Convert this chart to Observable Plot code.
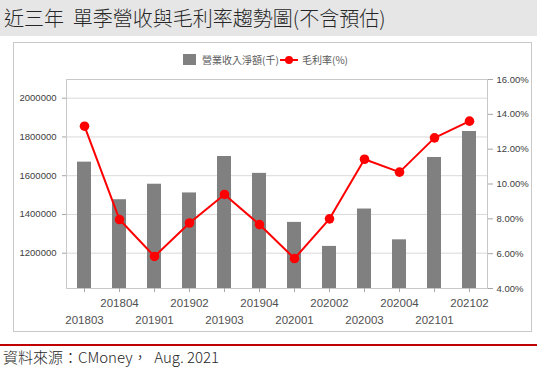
<!DOCTYPE html>
<html>
<head>
<meta charset="utf-8">
<script src="https://cdn.jsdelivr.net/npm/d3@7"></script>
<script src="https://cdn.jsdelivr.net/npm/@observablehq/plot@0.6"></script>
<style>
  html, body { margin:0; padding:0; background:#fff; }
  body { position:relative; width:537px; height:385px; overflow:hidden; font-family:"Noto Sans CJK TC","Noto Sans",sans-serif; }
  #title { position:absolute; left:0; top:0; width:537px; height:36px; background:#e6e6e6; color:#262626; font-size:20px; font-weight:300; line-height:36px; padding-left:4px; box-sizing:border-box; white-space:pre; }
  #box { position:absolute; left:13px; top:42px; width:519px; height:290px; border:1px solid #c9c9c9; box-sizing:border-box; }
  #chart { position:absolute; left:13px; top:42px; }
  #legend { position:absolute; left:0; top:51px; width:537px; height:18px; font-size:10px; color:#595959; }
  #legend .item { position:absolute; top:0; line-height:18px; white-space:nowrap; }
  #rule { position:absolute; left:0; top:344px; width:537px; height:2px; background:#c00000; }
  #source { position:absolute; left:3px; top:346px; font-size:15px; font-weight:300; line-height:22px; color:#262626; white-space:pre; }
</style>
</head>
<body>
<div id="title">近三年  單季營收與毛利率趨勢圖(不含預估)</div>
<div id="box"></div>
<div id="chart"></div>
<div id="legend"></div>
<div id="rule"></div>
<div id="source">資料來源：CMoney，  Aug. 2021</div>
<script>
// ---- data ----
const quarters = ["201803","201804","201901","201902","201903","201904","202001","202002","202003","202004","202101","202102"];
const revenue  = [1670000,1476000,1556000,1511000,1699000,1612000,1359000,1235000,1428000,1269000,1694000,1828000];
const margin   = [13.32,7.96,5.84,7.76,9.40,7.67,5.72,8.00,11.42,10.68,12.65,13.61];
const revTicks = [1200000,1400000,1600000,1800000,2000000];
const pctTicks = [4,6,8,10,12,14,16];
const seriesNames = ["營業收入淨額(千)","毛利率(%)"];

const data = quarters.map((q,i)=>({q, rev: revenue[i], gm: margin[i]}));

// scales
const yDomain = [1017800, 2096500];
const pDomain = [4, 16];
const toLeft = p => yDomain[0] + (p - pDomain[0]) / (pDomain[1] - pDomain[0]) * (yDomain[1] - yDomain[0]);
const toPct  = v => pDomain[0] + (v - yDomain[0]) / (yDomain[1] - yDomain[0]) * (pDomain[1] - pDomain[0]);

const upper = quarters.filter((d,i)=>i%2===1);
const lower = quarters.filter((d,i)=>i%2===0);

const chart = Plot.plot({
  width: 519,
  height: 290,
  marginLeft: 53,
  marginRight: 45,
  marginTop: 37,
  marginBottom: 44,
  style: { fontFamily: "'Liberation Sans', Arial, sans-serif", fontSize: "9.5px", color: "#404040", background: "transparent" },
  x: { type: "band", domain: quarters, paddingInner: 0.6, paddingOuter: 0.3, label: null },
  y: { domain: yDomain, label: null },
  marks: [
    Plot.gridY(revTicks, { stroke: "#d9d9d9", strokeOpacity: 1 }),
    Plot.barY(data, { x: "q", y1: yDomain[0], y2: "rev", fill: "#808080" }),
    Plot.frame({ stroke: "#c8c8c8" }),
    Plot.axisY(revTicks, { anchor: "left", label: null, tickSize: 4, tickPadding: 6, stroke: "#a6a6a6", tickFormat: d3.format("d"), fill: "#404040" }),
    Plot.axisY(pctTicks.map(toLeft), { anchor: "right", label: null, tickSize: 5, tickPadding: 4, stroke: "#a6a6a6", tickFormat: v => toPct(v).toFixed(2) + "%", fill: "#404040" }),
    Plot.axisX(quarters, { anchor: "bottom", label: null, tickSize: 4, tickFormat: () => "", stroke: "#a6a6a6" }),
    Plot.axisX(upper, { anchor: "bottom", label: null, tickSize: 0, tickPadding: 10, fontSize: 11.5, fill: "#505050" }),
    Plot.axisX(lower, { anchor: "bottom", label: null, tickSize: 0, tickPadding: 27, fontSize: 11.5, fill: "#505050" }),
    Plot.line(data, { x: "q", y: d => toLeft(d.gm), stroke: "#ff0000", strokeWidth: 2 }),
    Plot.dot(data, { x: "q", y: d => toLeft(d.gm), r: 4.8, fill: "#ff0000", stroke: "none" })
  ]
});
document.getElementById("chart").appendChild(chart);

// legend
const lg = document.getElementById("legend");
lg.innerHTML =
  `<div class="item" style="left:183px;top:3px;width:13px;height:11px;background:#808080"></div>` +
  `<div class="item" style="left:202px">${seriesNames[0]}</div>` +
  `<svg class="item" style="left:280px;top:0" width="18" height="18"><line x1="0" y1="9" x2="18" y2="9" stroke="#ff0000" stroke-width="2"/><circle cx="9" cy="9" r="4" fill="#ff0000"/></svg>` +
  `<div class="item" style="left:302px">${seriesNames[1]}</div>`;
</script>
</body>
</html>
